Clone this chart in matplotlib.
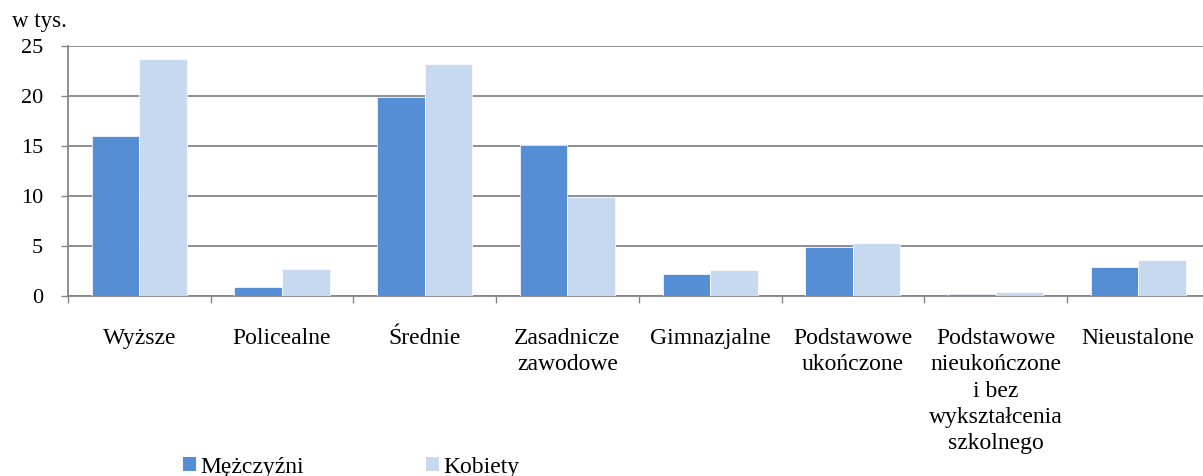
import numpy as np
import matplotlib.pyplot as plt
from matplotlib.patches import Patch

kategorie = ['Wyższe', 'Policealne', 'Średnie', 'Zasadnicze\nzawodowe', 'Gimnazjalne',
             'Podstawowe\nukończone', 'Podstawowe\nnieukończone\ni bez\nwykształcenia\nszkolnego',
             'Nieustalone']
mezczyzni = [16.0, 0.9, 19.9, 15.1, 2.2, 4.9, 0.2, 2.9]
kobiety = [23.7, 2.7, 23.2, 9.9, 2.6, 5.3, 0.4, 3.6]
y_ticks = [0, 5, 10, 15, 20, 25]

c_m = '#558ED5'
c_k = '#C6D9F1'
szary = '#868686'

plt.rcParams['font.family'] = ['Liberation Serif', 'DejaVu Serif']

fig = plt.figure(figsize=(12.03, 4.76), dpi=100)
ax = fig.add_axes([68/1203, 180/476, 1141.6/1203, 250/476])

x = np.arange(len(kategorie))
w = 1/3
ax.bar(x - w/2, mezczyzni, w, color=c_m, edgecolor='white', linewidth=0.5, zorder=3)
ax.bar(x + w/2, kobiety, w, color=c_k, edgecolor='white', linewidth=0.5, zorder=3)

ax.set_xlim(-0.5, len(kategorie) - 0.5)
ax.set_ylim(0, 25)
ax.set_yticks(y_ticks)
ax.tick_params(axis='y', labelsize=16, color=szary, length=5, width=1, pad=13)
ax.yaxis.grid(True, color=szary, linewidth=1.3, zorder=0)

ax.set_xticks(x)
ax.set_xticklabels(kategorie, fontsize=17, linespacing=1.33, va='top')
ax.tick_params(axis='x', which='major', length=0, pad=23)
ax.set_xticks(np.arange(len(kategorie) + 1) - 0.5, minor=True)
ax.tick_params(axis='x', which='minor', length=5, color=szary, width=1)

for s in ['top', 'right']:
    ax.spines[s].set_visible(False)
for s in ['left', 'bottom']:
    ax.spines[s].set_color(szary)
    ax.spines[s].set_linewidth(1.3)

fig.text(12/1203, 1 - 21/476, 'w tys.', fontsize=16.5, va='center', ha='left')

uchwyty = [Patch(facecolor=c_m), Patch(facecolor=c_k)]
fig.legend(uchwyty, ['Mężczyźni', 'Kobiety'], loc='center left',
           bbox_to_anchor=(183/1203, 1 - 467/476), ncol=2, frameon=False,
           fontsize=17, handlelength=0.55, handleheight=0.55, handletextpad=0.17,
           columnspacing=5.2, borderpad=0, borderaxespad=0)

fig.savefig('out.png', dpi=100)
